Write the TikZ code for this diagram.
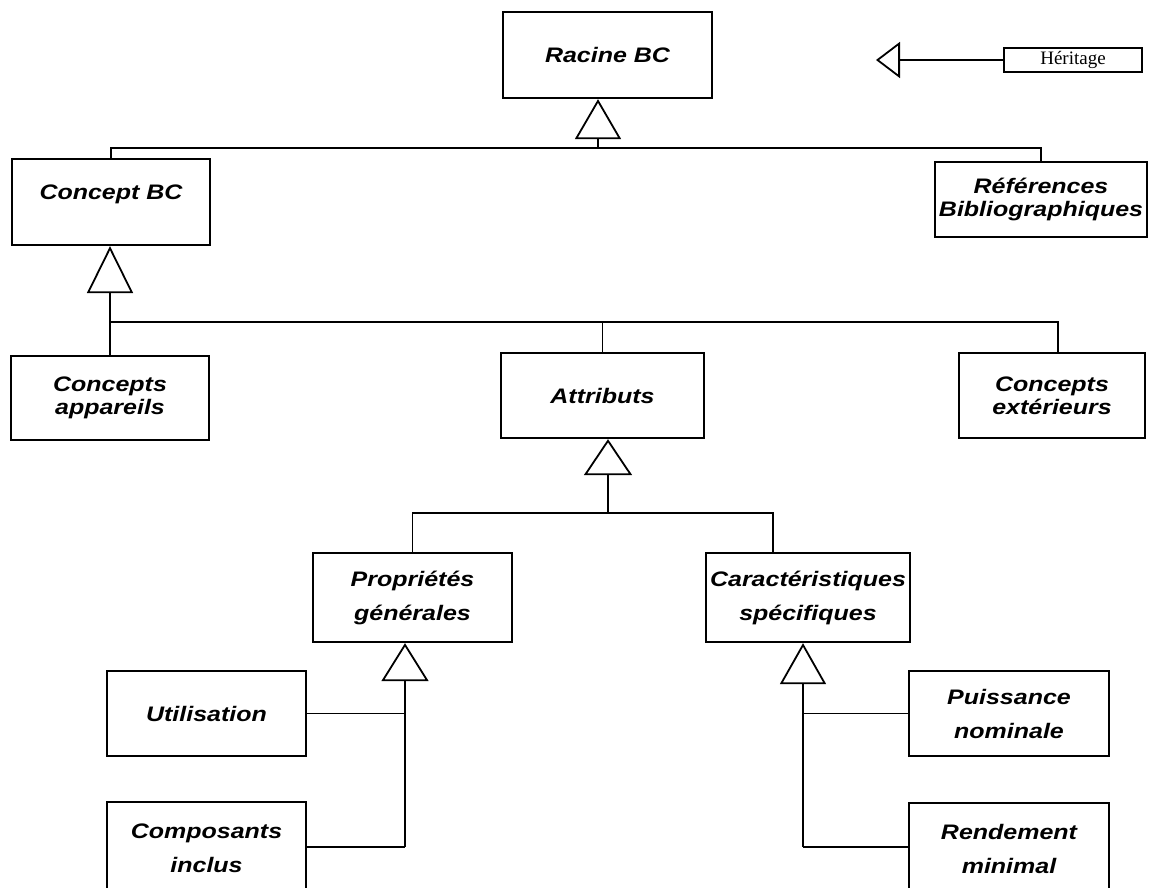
\documentclass[tikz,border=0pt]{standalone}
\usepackage{fontspec}
\newfontfamily\boxfont{Liberation Sans}[FakeStretch=1.19]
\newfontfamily\legendfont{Liberation Serif}
\usetikzlibrary{arrows.meta}

\begin{document}
\begin{tikzpicture}[x=1pt,y=-1pt,
  sz/.style n args={2}{minimum width=#1pt, minimum height=#2pt},
  cls/.style={draw, line width=2.3pt, fill=white, inner sep=0pt, align=center,
    font=\boxfont\bfseries\itshape\fontsize{21}{23}\selectfont},
  clsw/.style={cls, font=\boxfont\bfseries\itshape\fontsize{21}{34}\selectfont},
  link/.style={line width=1.8pt},
  inh/.style n args={2}{link,
    -{Triangle[open, length=#1pt, width=#2pt, line width=1.8pt]}},
]
\useasboundingbox (0,0) rectangle (1149,888);
\clip (0,0) rectangle (1149,888);
\fill[white] (0,0) rectangle (1149,888);

% class boxes
\node[cls, sz={209}{86}] (racine) at (607.5,55) {Racine BC};
\node[cls, sz={198}{86}, text height=15pt, text depth=19pt] (concept) at (111,202) {Concept BC};
\node[cls, sz={212}{75}] (refs) at (1041,199.5) {Références\\Bibliographiques};
\node[cls, sz={198}{84}] (appareils) at (110,398) {Concepts\\appareils};
\node[cls, sz={203}{85}] (attributs) at (602.5,395.5) {Attributs};
\node[cls, sz={186}{85}] (exterieurs) at (1052,395.5) {Concepts\\extérieurs};
\node[clsw, sz={199}{89}] (proprietes) at (412.5,597.5) {Propriétés\\générales};
\node[clsw, sz={204}{89}] (caract) at (808,597.5) {Caractéristiques\\spécifiques};
\node[clsw, sz={199}{85}] (utilisation) at (206.5,713.5) {Utilisation};
\node[clsw, sz={199}{93}] (composants) at (206.5,848.5) {Composants\\inclus};
\node[clsw, sz={200}{85}] (puissance) at (1009,713.5) {Puissance\\nominale};
\node[clsw, sz={200}{92}] (rendement) at (1009,849) {Rendement\\minimal};

% legend
\node[draw, line width=1.4pt, sz={138}{24}, inner sep=0pt,
  font=\legendfont\fontsize{19}{22}\selectfont] (heritage) at (1073,60) {Héritage};
\coordinate (legtip) at (876,60);
\draw[inh={24}{36}] (heritage.west) -- (legtip);

% Racine BC and its children
\coordinate (j0) at (598,148);
\draw[inh={40}{46}] (j0) -- (j0 |- racine.south);
\draw[link] (concept.north) |- (j0) -| (refs.north);

% Concept BC and its children
\coordinate (j1) at (110,322);
\coordinate (e1) at (1058,322);
\draw[inh={47}{46}] (appareils.north) -- (appareils.north |- concept.south);
\draw[link] (j1) -- (e1) -- (e1 |- exterieurs.north);
\draw[link] (attributs.north |- j1) -- (attributs.north);

% Attributs and its children
\coordinate (j2) at (608,513);
\coordinate (c2) at (773,513);
\draw[inh={36}{48}] (j2) -- (j2 |- attributs.south);
\draw[link] (proprietes.north) |- (c2) -- (c2 |- caract.north);

% Propriétés générales and its children
\coordinate (k1) at (405,847);
\draw[inh={38}{47}] (k1) -- (k1 |- proprietes.south);
\draw[link] (utilisation.east) -- (utilisation.east -| k1);
\draw[link] (k1 -| composants.east) -- (k1);

% Caractéristiques spécifiques and its children
\coordinate (k2) at (803,847);
\draw[inh={41}{46}] (k2) -- (k2 |- caract.south);
\draw[link] (puissance.west -| k2) -- (puissance.west);
\draw[link] (k2) -- (k2 -| rendement.west);
\end{tikzpicture}
\end{document}
